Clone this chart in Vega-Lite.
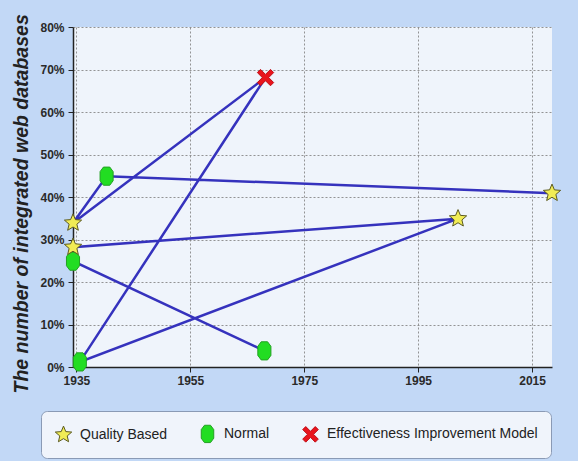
{
  "$schema": "https://vega.github.io/schema/vega-lite/v6.json",
  "autosize": "none",
  "padding": {"left": 73, "top": 27, "right": 26, "bottom": 94},
  "width": 479,
  "height": 340,
  "background": "#c2d8f6",
  "config": {
    "view": {"fill": "#eff4fb", "stroke": null},
    "font": "Liberation Sans"
  },
  "data": {
    "values": [
      {"order": 1, "year": 1968.0, "value": 0.038, "series": "Normal"},
      {"order": 2, "year": 1934.4, "value": 0.249, "series": "Normal"},
      {"order": 3, "year": 1934.4, "value": 0.282, "series": "Quality Based"},
      {"order": 4, "year": 2002.0, "value": 0.349, "series": "Quality Based"},
      {"order": 5, "year": 1935.6, "value": 0.012, "series": "Normal"},
      {"order": 6, "year": 1968.2, "value": 0.681, "series": "Effectiveness Improvement Model"},
      {"order": 7, "year": 1934.4, "value": 0.339, "series": "Quality Based"},
      {"order": 8, "year": 1940.3, "value": 0.449, "series": "Normal"},
      {"order": 9, "year": 2018.5, "value": 0.409, "series": "Quality Based"}
    ]
  },
  "encoding": {
    "x": {
      "field": "year", "type": "quantitative",
      "scale": {"domain": [1934.4, 2018.5], "nice": false, "zero": false},
      "axis": {
        "title": null, "values": [1935, 1955, 1975, 1995, 2015], "format": "d",
        "grid": true, "gridDash": [2, 2], "gridColor": "#888888", "gridOpacity": 0.9,
        "domainColor": "#222222", "domainWidth": 1.5, "tickColor": "#222222", "tickSize": 5,
        "labelFontSize": 12, "labelColor": "#2a2a2a", "labelPadding": 3, "labelFontWeight": "bold"
      }
    },
    "y": {
      "field": "value", "type": "quantitative",
      "scale": {"domain": [0, 0.8], "nice": false},
      "axis": {
        "values": [0, 0.1, 0.2, 0.3, 0.4, 0.5, 0.6, 0.7, 0.8], "format": ".0%",
        "grid": true, "gridDash": [2, 2], "gridColor": "#888888", "gridOpacity": 0.9,
        "domainColor": "#222222", "domainWidth": 1.5, "tickColor": "#222222", "tickSize": 5,
        "labelFontSize": 12, "labelColor": "#2a2a2a", "labelPadding": 4, "labelFontWeight": "bold",
        "title": "The number of integrated web databases",
        "titleFontSize": 19.5, "titleFontStyle": "italic", "titleFontWeight": "bold", "titleColor": "#222222",
        "titleAngle": 270, "titleAlign": "left", "titleBaseline": "middle",
        "titleX": -52, "titleY": 366
      }
    }
  },
  "layer": [
    {
      "mark": {"type": "line", "color": "#3532bd", "strokeWidth": 2.5},
      "encoding": {"order": {"field": "order", "type": "quantitative"}}
    },
    {
      "mark": {"type": "point", "filled": true, "size": 330, "opacity": 1, "strokeWidth": 1},
      "encoding": {
        "shape": {
          "field": "series", "type": "nominal",
          "scale": {
            "domain": ["Quality Based", "Normal", "Effectiveness Improvement Model"],
            "range": [
              "M0,-1L0.265,-0.364L0.951,-0.309L0.428,0.139L0.588,0.809L0,0.45L-0.588,0.809L-0.428,0.139L-0.951,-0.309L-0.265,-0.364Z",
              "M-0.35,-1L0.35,-1L0.72,-0.5L0.72,0.5L0.35,1L-0.35,1L-0.72,0.5L-0.72,-0.5Z",
              "M-0.9,-0.55L-0.55,-0.9L0,-0.35L0.55,-0.9L0.9,-0.55L0.35,0L0.9,0.55L0.55,0.9L0,0.35L-0.55,0.9L-0.9,0.55L-0.35,0Z"
            ]
          },
          "legend": {
            "title": null, "orient": "none", "direction": "horizontal",
            "legendX": -32, "legendY": 384,
            "padding": 13, "columnPadding": 30, "labelOffset": 7,
            "symbolSize": 300, "symbolStrokeWidth": 1,
            "labelFontSize": 14, "labelColor": "#222222", "labelLimit": 400,
            "fillColor": "#f0f4fb", "strokeColor": "#8a9ab5", "cornerRadius": 6
          }
        },
        "fill": {
          "field": "series", "type": "nominal",
          "scale": {
            "domain": ["Quality Based", "Normal", "Effectiveness Improvement Model"],
            "range": ["#f1ec55", "#22dd22", "#e8141c"]
          },
          "legend": null
        },
        "stroke": {
          "field": "series", "type": "nominal",
          "scale": {
            "domain": ["Quality Based", "Normal", "Effectiveness Improvement Model"],
            "range": ["#5b5a22", "#23a023", "#c01018"]
          },
          "legend": null
        }
      }
    }
  ]
}
